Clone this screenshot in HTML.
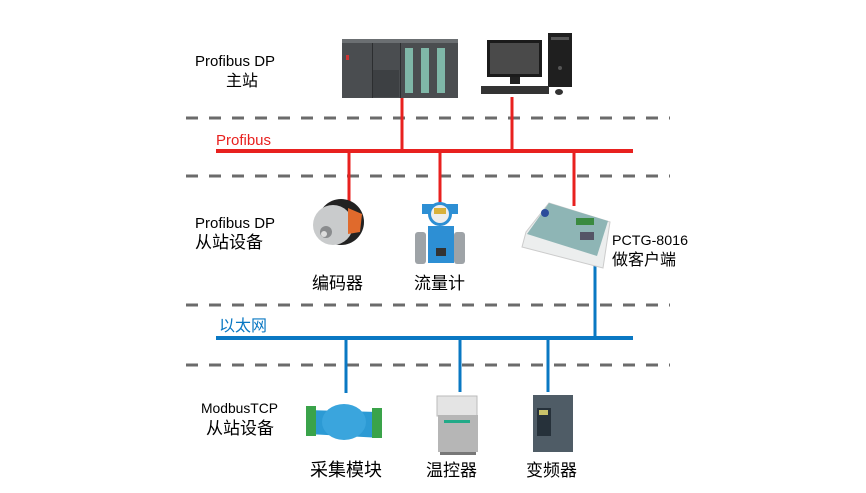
<!DOCTYPE html>
<html><head><meta charset="utf-8"><style>
html,body{margin:0;padding:0;background:#fff;}
svg{display:block;}
text{font-family:"Liberation Sans","Noto Sans CJK SC",sans-serif;}
</style></head><body>
<svg width="866" height="493" viewBox="0 0 866 493" xmlns="http://www.w3.org/2000/svg">
<g stroke="#6b6b6b" stroke-width="3" stroke-dasharray="12,11">
<line x1="186" y1="118" x2="670" y2="118"/>
<line x1="186" y1="176" x2="670" y2="176"/>
<line x1="186" y1="305" x2="670" y2="305"/>
<line x1="186" y1="365" x2="670" y2="365"/>
</g>
<g stroke="#e8211f" stroke-width="4">
<line x1="216" y1="151" x2="633" y2="151"/>
</g>
<g stroke="#e8211f" stroke-width="3">
<line x1="402" y1="97" x2="402" y2="151"/>
<line x1="512" y1="97" x2="512" y2="151"/>
<line x1="349" y1="151" x2="349" y2="203"/>
<line x1="440" y1="151" x2="440" y2="203"/>
<line x1="574" y1="151" x2="574" y2="206"/>
</g>
<g stroke="#0a78c3" stroke-width="4">
<line x1="216" y1="338" x2="633" y2="338"/>
</g>
<g stroke="#0a78c3" stroke-width="3">
<line x1="595" y1="266" x2="595" y2="338"/>
<line x1="346" y1="338" x2="346" y2="393"/>
<line x1="460" y1="338" x2="460" y2="392"/>
<line x1="548" y1="338" x2="548" y2="392"/>
</g>
<!-- PLC -->
<rect x="342" y="39" width="116" height="59" fill="#4a4d50"/>
<rect x="342" y="39" width="116" height="4" fill="#6b6f72"/>
<rect x="372" y="43" width="1" height="55" fill="#2c2e30"/>
<rect x="400" y="43" width="1" height="55" fill="#2c2e30"/>
<rect x="405" y="48" width="8" height="45" fill="#7fb7a8"/>
<rect x="421" y="48" width="8" height="45" fill="#7fb7a8"/>
<rect x="437" y="48" width="8" height="45" fill="#7fb7a8"/>
<rect x="346" y="55" width="3" height="5" fill="#c33"/>
<rect x="373" y="70" width="26" height="27" fill="#3d4043"/>
<!-- PC -->
<rect x="487" y="40" width="55" height="37" fill="#1b1b1b"/>
<rect x="490" y="43" width="49" height="31" fill="#4a4a4a"/>
<rect x="510" y="77" width="10" height="7" fill="#222"/>
<rect x="548" y="33" width="24" height="54" fill="#1f1f1f"/>
<rect x="551" y="37" width="18" height="3" fill="#555"/>
<circle cx="560" cy="68" r="2" fill="#555"/>
<rect x="481" y="86" width="68" height="8" fill="#333"/>
<ellipse cx="559" cy="92" rx="4" ry="3" fill="#333"/>
<!-- encoder -->
<circle cx="341" cy="222" r="23" fill="#222"/>
<circle cx="333" cy="225" r="20" fill="#c9cbcc"/>
<path d="M348 208 L362 214 L360 232 L348 234 Z" fill="#e06a2c"/>
<circle cx="326" cy="232" r="6" fill="#8a8c8e"/>
<circle cx="324" cy="234" r="3" fill="#ddd"/>
<!-- flowmeter -->
<rect x="422" y="204" width="36" height="10" fill="#2d8fd4"/>
<circle cx="440" cy="214" r="12" fill="#2d8fd4"/>
<circle cx="440" cy="214" r="9" fill="#eee"/>
<rect x="434" y="208" width="12" height="6" fill="#d9b13b"/>
<rect x="428" y="226" width="26" height="37" fill="#2d8fd4"/>
<rect x="415" y="232" width="11" height="32" rx="3" fill="#9ea3a7"/>
<rect x="454" y="232" width="11" height="32" rx="3" fill="#9ea3a7"/>
<rect x="436" y="248" width="10" height="8" fill="#333"/>
<!-- PCTG -->
<polygon points="549,203 610,222 603,268 522,247 526,232" fill="#eceeee" stroke="#ccc"/>
<polygon points="549,203 608,221 597,256 527,234" fill="#8eb5b5"/>
<rect x="580" y="232" width="14" height="8" fill="#556" />
<rect x="576" y="218" width="18" height="7" fill="#3a8a40"/>
<circle cx="545" cy="213" r="4" fill="#2c4c9b"/>
<!-- acquisition module -->
<polygon points="306,410 378,412 382,438 308,434" fill="#2c9ad4"/>
<rect x="306" y="406" width="10" height="30" fill="#3aa34a"/>
<rect x="372" y="408" width="10" height="30" fill="#3aa34a"/>
<ellipse cx="344" cy="422" rx="22" ry="18" fill="#3aa5dd"/>
<!-- temperature controller -->
<rect x="437" y="396" width="40" height="20" fill="#e4e4e4" stroke="#bbb"/>
<rect x="438" y="415" width="40" height="37" fill="#b6b6b6"/>
<rect x="444" y="420" width="26" height="3" fill="#2a8"/>
<rect x="440" y="452" width="36" height="3" fill="#777"/>
<!-- inverter -->
<rect x="533" y="395" width="40" height="57" fill="#4f5c66"/>
<rect x="537" y="408" width="14" height="28" fill="#26313a"/>
<rect x="539" y="410" width="9" height="5" fill="#c9c26a"/>
<!-- labels -->
<g font-size="15" fill="#000">
<text x="195" y="66">Profibus DP</text>
<text x="226" y="86" font-size="16">主站</text>
<text x="195" y="228">Profibus DP</text>
<text x="195" y="248" font-size="17">从站设备</text>
<text x="312" y="289" font-size="17">编码器</text>
<text x="414" y="289" font-size="17">流量计</text>
<text x="201" y="413" font-size="14" textLength="77" lengthAdjust="spacingAndGlyphs">ModbusTCP</text>
<text x="206" y="434" font-size="17">从站设备</text>
<text x="310" y="476" font-size="18">采集模块</text>
<text x="426" y="476" font-size="17">温控器</text>
<text x="526" y="476" font-size="17">变频器</text>
<text x="612" y="245" font-size="14" textLength="76" lengthAdjust="spacingAndGlyphs">PCTG-8016</text>
<text x="612" y="265" font-size="16">做客户端</text>
</g>
<text x="216" y="145" font-size="15" fill="#e8211f">Profibus</text>
<text x="219" y="331" font-size="16" fill="#0a78c3">以太网</text>
</svg>
</body></html>
